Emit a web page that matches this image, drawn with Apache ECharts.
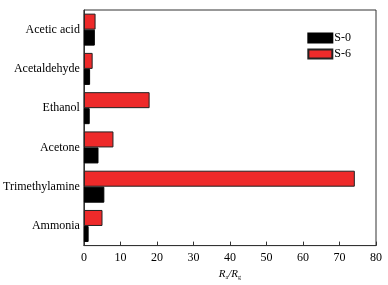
<!DOCTYPE html>
<html>
<head>
<meta charset="utf-8">
<script src="https://cdn.jsdelivr.net/npm/echarts@6/dist/echarts.min.js"></script>
<style>
html, body { margin: 0; padding: 0; background: #fff; }
#chart { width: 388px; height: 285px; }
</style>
</head>
<body>
<div id="chart"></div>
<script>
// categories, bottom to top
const gases = ['Ammonia', 'Trimethylamine', 'Acetone', 'Ethanol', 'Acetaldehyde', 'Acetic acid'];
const s0 = [1.3, 5.6, 4.0, 1.6, 1.7, 3.0];
const s6 = [5.1, 74.2, 8.1, 18.0, 2.4, 3.2];
const xTicks = [0, 80, 10];

const font = '"Liberation Serif", "DejaVu Serif", serif';
const chart = echarts.init(document.getElementById('chart'));

chart.setOption({
    animation: false,
    textStyle: { fontFamily: font, color: '#000' },
    grid: {
        left: 81, right: 12, top: 10, bottom: 39,
        show: true, borderColor: '#333', borderWidth: 1
    },
    legend: {
        orient: 'vertical',
        right: 32, top: 27,
        icon: 'rect',
        itemWidth: 24, itemHeight: 9, itemGap: 4,
        textStyle: { fontFamily: font, fontSize: 12, color: '#000', padding: [0, 0, 0, -3] },
        data: ['S-0', 'S-6']
    },
    xAxis: {
        type: 'value',
        min: xTicks[0], max: xTicks[1], interval: xTicks[2],
        axisLine: { show: true, lineStyle: { color: '#333' } },
        axisTick: { show: true, inside: true, length: 4, lineStyle: { color: '#333' } },
        axisLabel: { fontFamily: font, fontSize: 12, color: '#000', margin: 6 },
        splitLine: { show: false },
        name: '{i|R}{s|a}{i|/R}{s|g}',
        nameLocation: 'middle',
        nameGap: 21,
        nameTextStyle: {
            rich: {
                i: { fontFamily: font, fontStyle: 'italic', fontSize: 11, color: '#000' },
                s: { fontFamily: font, fontSize: 6, color: '#000', verticalAlign: 'bottom', padding: [6, 0, 0, 0] }
            }
        }
    },
    yAxis: {
        type: 'category',
        data: gases,
        axisLine: { show: true, lineStyle: { color: '#333' } },
        axisTick: { show: false },
        axisLabel: { fontFamily: font, fontSize: 12, color: '#000', margin: 4 }
    },
    series: [
        {
            name: 'S-6', type: 'bar', data: s6,
            barWidth: 16, barGap: '0%',
            itemStyle: { color: '#ee2a2a', borderColor: '#222', borderWidth: 1 }
        },
        {
            name: 'S-0', type: 'bar', data: s0,
            barWidth: 16, barGap: '0%',
            itemStyle: { color: '#000', borderColor: '#000', borderWidth: 1 }
        }
    ]
});
</script>
</body>
</html>
